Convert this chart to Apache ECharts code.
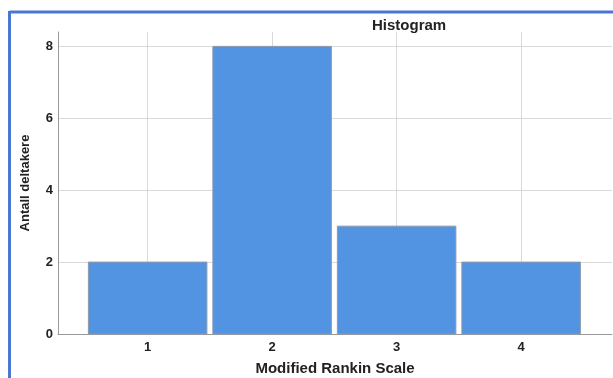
<!DOCTYPE html>
<html>
<head>
<meta charset="utf-8">
<script src="https://cdn.jsdelivr.net/npm/echarts@6/dist/echarts.min.js"></script>
<style>
html,body{margin:0;padding:0;background:#fff;}
#c{width:613px;height:378px;}
</style>
</head>
<body>
<div id="c"></div>
<script>
const scaleValues = [1, 2, 3, 4];
const counts = [2, 8, 3, 2];
const yTicks = [0, 2, 4, 6, 8];
const titleText = 'Histogram';
const xName = 'Modified Rankin Scale';
const yName = 'Antall deltakere';

const chart = echarts.init(document.getElementById('c'));
const font = '"Liberation Sans", Arial, sans-serif';
const binHalf = 0.476;

chart.setOption({
  animation: false,
  backgroundColor: '#fff',
  title: {
    text: titleText, left: 367, top: 13,
    textStyle: { fontFamily: font, fontSize: 15, fontWeight: 'bold', color: '#222' }
  },
  graphic: [
    { type: 'line', shape: { x1: 9.5, y1: 12, x2: 613, y2: 12 }, style: { stroke: '#4a78d0', lineWidth: 3 } },
    { type: 'line', shape: { x1: 9.5, y1: 11, x2: 9.5, y2: 378 }, style: { stroke: '#4a78d0', lineWidth: 3 } }
  ],
  grid: { left: 58, right: 1, top: 32, bottom: 44, outerBoundsMode: 'none', containLabel: false },
  xAxis: {
    type: 'value', min: 0.28, max: 4.73,
    name: xName, nameLocation: 'middle', nameGap: 27,
    nameTextStyle: { fontFamily: font, fontSize: 15, fontWeight: 'bold', color: '#222' },
    axisLine: { show: true, lineStyle: { color: '#999', width: 1 } },
    axisTick: { show: false, customValues: scaleValues },
    axisLabel: { customValues: scaleValues, fontFamily: font, fontSize: 13, fontWeight: 'bold', color: '#222', margin: 7 },
    splitLine: { show: true, lineStyle: { color: '#d9d9d9', width: 1 } }
  },
  yAxis: {
    type: 'value', min: 0, max: 8.4,
    name: yName, nameLocation: 'middle', nameGap: 26,
    nameTextStyle: { fontFamily: font, fontSize: 13, fontWeight: 'bold', color: '#222' },
    axisLine: { show: true, lineStyle: { color: '#999', width: 1 } },
    axisTick: { show: false, customValues: yTicks },
    axisLabel: { customValues: yTicks, fontFamily: font, fontSize: 13, fontWeight: 'bold', color: '#222', margin: 5 },
    splitLine: { show: true, lineStyle: { color: '#d9d9d9', width: 1 } }
  },
  series: [{
    type: 'custom',
    data: scaleValues.map((v, i) => [v, counts[i]]),
    encode: { x: 0, y: 1 },
    renderItem: function (params, api) {
      const v = api.value(0), c = api.value(1);
      const p0 = api.coord([v - binHalf, c]);
      const p1 = api.coord([v + binHalf, 0]);
      return {
        type: 'rect',
        shape: { x: p0[0], y: p0[1], width: p1[0] - p0[0], height: p1[1] - p0[1] },
        style: { fill: '#5294e2', stroke: '#8c9aab', lineWidth: 1 }
      };
    }
  }]
});
</script>
</body>
</html>
